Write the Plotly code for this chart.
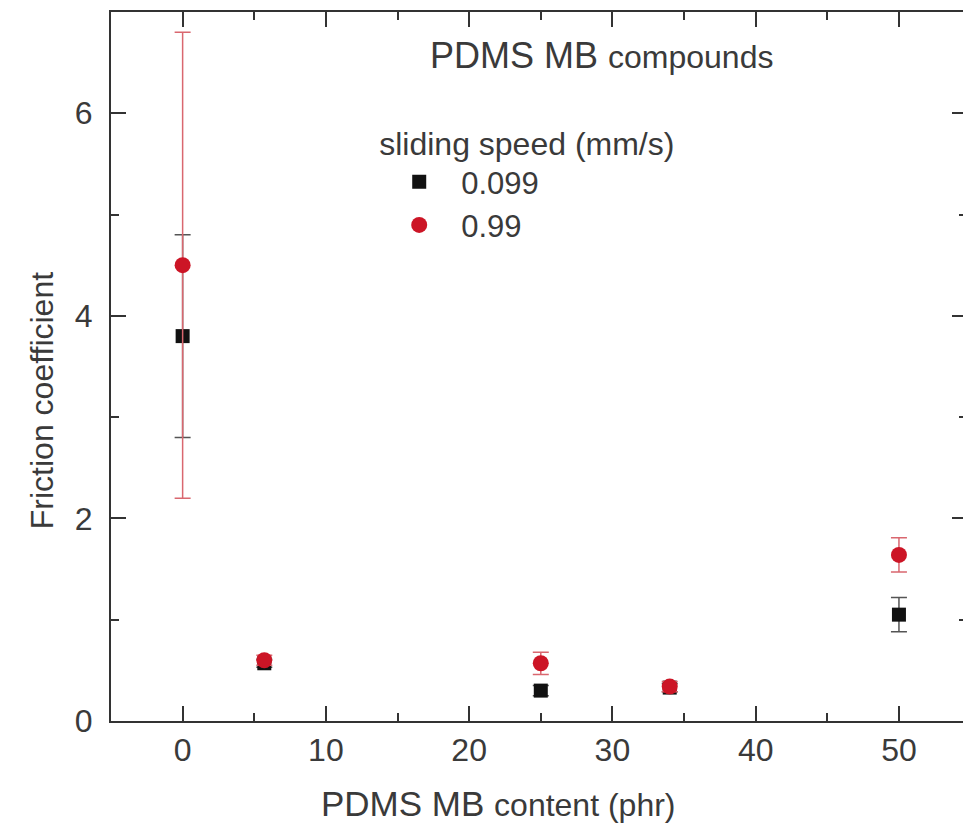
import plotly.graph_objects as go

# Data
pdms_content = [0, 5.7, 25, 34, 50]
friction_slow = [3.8, 0.57, 0.30, 0.33, 1.05]      # 0.099 mm/s
friction_slow_err = [1.0, 0.04, 0.05, 0.04, 0.17]
friction_fast = [4.5, 0.60, 0.57, 0.34, 1.64]      # 0.99 mm/s
friction_fast_err = [2.3, 0.05, 0.11, 0.05, 0.17]
series_names = ["0.099", "0.99"]

FONT = "Liberation Sans, Arial, sans-serif"
TXT = "#3a3a3a"
RED = "#cc1526"

fig = go.Figure()
fig.add_trace(go.Scatter(
    x=pdms_content, y=friction_slow, mode="markers", name=series_names[0],
    marker=dict(symbol="square", size=14, color="#111111"),
    error_y=dict(type="data", array=friction_slow_err, visible=True,
                 color="#555555", thickness=1.5, width=8),
))
fig.add_trace(go.Scatter(
    x=pdms_content, y=friction_fast, mode="markers", name=series_names[1],
    marker=dict(symbol="circle", size=16, color=RED),
    error_y=dict(type="data", array=friction_fast_err, visible=True,
                 color="#d9676f", thickness=1.5, width=8),
))

axis_common = dict(
    showline=True, linecolor="#333333", linewidth=2, mirror="ticks",
    ticks="inside", ticklen=15, tickwidth=2, tickcolor="#333333",
    showgrid=False, zeroline=False,
    tickfont=dict(family=FONT, size=32, color=TXT),
)

fig.update_xaxes(range=[-5, 54.75], dtick=10, tick0=0, ticklabelstandoff=0,
                 minor=dict(dtick=5, ticks="inside", ticklen=8, tickwidth=2,
                            tickcolor="#333333", showgrid=False),
                 **axis_common)
fig.update_yaxes(range=[0, 7], dtick=2, tick0=0, ticklabelstandoff=10,
                 minor=dict(dtick=1, ticks="inside", ticklen=8, tickwidth=2,
                            tickcolor="#333333", showgrid=False),
                 **axis_common)

fig.update_layout(
    width=963, height=820,
    margin=dict(l=103, r=2, t=3, b=107),
    plot_bgcolor="white", paper_bgcolor="white",
    font=dict(family=FONT, size=32, color=TXT),
    showlegend=True,
    legend=dict(
        x=0.311, y=0.857, xanchor="left", yanchor="top",
        bgcolor="rgba(0,0,0,0)", borderwidth=0,
        title=dict(text="sliding speed (mm/s)", font=dict(family=FONT, size=32, color=TXT)),
        font=dict(family=FONT, size=31, color=TXT),
        itemwidth=74, tracegroupgap=0,
    ),
    annotations=[
        dict(text="PDMS MB <span style='font-size:32px'>compounds</span>",
             xref="paper", yref="paper", x=0.573, y=0.938,
             xanchor="center", yanchor="middle", showarrow=False,
             font=dict(family=FONT, size=36, color=TXT)),
        dict(text="PDMS MB <span style='font-size:32px'>content (phr)</span>",
             xref="paper", yref="paper", x=0.453, y=-0.117,
             xanchor="center", yanchor="middle", showarrow=False,
             font=dict(family=FONT, size=35, color=TXT)),
        dict(text="Friction coefficient",
             xref="paper", yref="paper", x=-0.081, y=0.452,
             xanchor="center", yanchor="middle", showarrow=False, textangle=-90,
             font=dict(family=FONT, size=32, color=TXT)),
    ],
)

fig.write_html("out.html")
